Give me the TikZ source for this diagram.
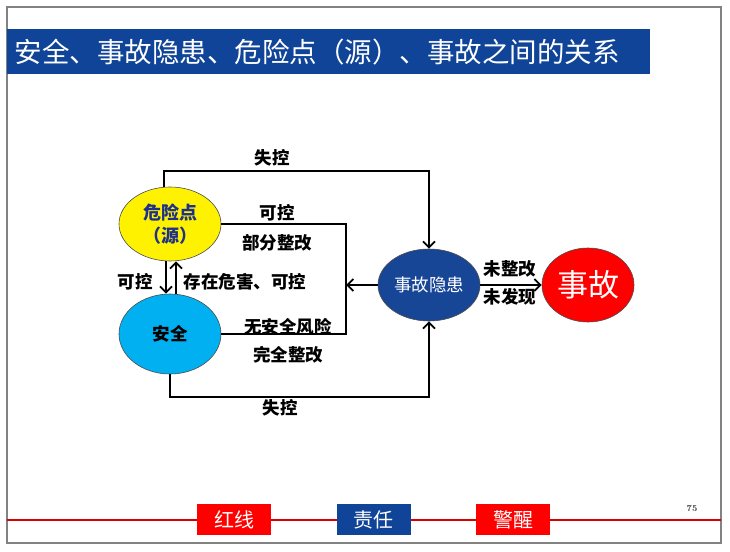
\documentclass[tikz,border=0pt]{standalone}
\usepackage{fontspec}
\usepackage{tikz}
\usepackage{xcolor}
\usetikzlibrary{shapes.geometric,arrows.meta}
\newfontfamily\cjk{Noto Sans CJK SC}
\definecolor{titleblue}{RGB}{16,68,152}
\definecolor{hazardblue}{RGB}{24,70,150}
\definecolor{safecyan}{RGB}{0,176,240}
\definecolor{textblue}{RGB}{30,50,140}
\definecolor{framegray}{RGB}{130,130,130}
\begin{document}
\begin{tikzpicture}[x=1pt,y=-1pt,font=\cjk]
	\tikzstyle{edge} = [draw=black, line width=1.8pt]
	\tikzstyle{arr} = [edge, -{Straight Barb[length=6pt,width=12pt]}]
	\tikzstyle{blob} = [ellipse, draw=black!70, line width=0.6pt, inner sep=0pt]
	\tikzstyle{lbl} = [font=\cjk\bfseries\fontsize{17.5}{19}\selectfont]
	\tikzstyle{tag} = [minimum width=74pt, minimum height=31pt, inner sep=0pt, text=white, font=\cjk\fontsize{20}{22}\selectfont]
	\useasboundingbox (0,0) rectangle (730,551);
	\fill[white] (0,0) rectangle (730,551);
	\draw[framegray, line width=1.2pt] (7,7) rectangle (721,543);
	\fill[titleblue] (7,29) rectangle (650,74);
		\node[anchor=west, text=white, font=\cjk\fontsize{27.5}{29}\selectfont] (title) at (11,52) {安全、事故隐患、危险点（源）、事故之间的关系};
		\node[blob, fill=yellow, minimum width=102pt, minimum height=74pt, align=center, text=textblue, font=\cjk\bfseries\fontsize{18}{23}\selectfont] (danger) at (170,224) {危险点\\（源）};
		\node[blob, fill=safecyan, minimum width=102pt, minimum height=80pt, lbl] (safe) at (170,334) {安全};
		\node[blob, fill=hazardblue, minimum width=102pt, minimum height=72pt, text=white, font=\cjk\fontsize{17.5}{19}\selectfont] (hazard) at (429,285) {事故隐患};
		\node[blob, fill=red, minimum width=92pt, minimum height=74pt, text=white, font=\cjk\fontsize{31}{33}\selectfont] (accident) at (588,285) {事故};
		\coordinate (junc) at (346,285);
	% connectors
	\draw[arr] ([xshift=-6pt]danger.north) -- ++(0,-16) -| (hazard.north);
	\draw[arr] (safe.south) -- ++(0,23) -| (hazard.south);
	\draw[edge] (danger.east) -| (junc) |- (safe.east);
	\draw[arr] (hazard.west) -- (junc);
	\draw[arr] ([xshift=-4pt]danger.south) -- ([xshift=-4pt]safe.north);
	\draw[arr] ([xshift=6pt]safe.north) -- ([xshift=6pt]danger.south);
	\draw[arr] (hazard.east) -- (accident.west);
	% labels
		\node[lbl] (lostA) at (272,158) {失控};
		\node[lbl] (ctrlA) at (277,213) {可控};
		\node[lbl] (part) at (277,243) {部分整改};
		\node[lbl] (ctrlB) at (135,282) {可控};
		\node[lbl] (exist) at (245,282) {存在危害、可控};
		\node[lbl] (norisk) at (288,327) {无安全风险};
		\node[lbl] (full) at (288,355) {完全整改};
		\node[lbl] (lostB) at (280,408) {失控};
		\node[lbl] (unfix) at (510,269) {未整改};
		\node[lbl] (unseen) at (510,297) {未发现};
	% footer
	\draw[red!85!black, line width=1.2pt] (7,520) -- (721,520);
		\node[tag, fill=red] (redline) at (234,519.5) {红线};
		\node[tag, fill=titleblue] (duty) at (373.5,519.5) {责任};
		\node[tag, fill=red] (alert) at (513,519.5) {警醒};
		\node[font=\bfseries\fontsize{9}{10}\selectfont, text=black!75] (page) at (692,509) {75};
\end{tikzpicture}
\end{document}
